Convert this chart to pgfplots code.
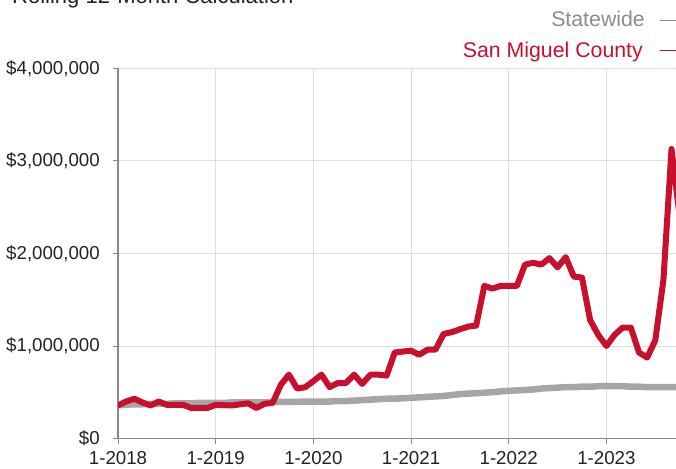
\documentclass[border=0pt]{standalone}
\usepackage{fontspec}
\setmainfont{Liberation Sans}
\usepackage{pgfplots}
\usepackage{pgfplotstable}
\pgfplotsset{compat=1.18}
\definecolor{smred}{HTML}{C8102E}
\definecolor{stgray}{HTML}{A6A6A6}
\definecolor{txtgray}{HTML}{8C8C8C}
\definecolor{gridgray}{HTML}{DDDDDD}
\definecolor{axgray}{HTML}{8A8A8A}
\definecolor{txtdark}{HTML}{222222}

\pgfplotstableread{
m v
0 0.36
1 0.365
2 0.37
3 0.37
4 0.375
5 0.375
6 0.375
7 0.38
8 0.38
9 0.38
10 0.385
11 0.385
12 0.385
13 0.385
14 0.39
15 0.39
16 0.39
17 0.39
18 0.39
19 0.395
20 0.395
21 0.395
22 0.395
23 0.40
24 0.40
25 0.40
26 0.40
27 0.405
28 0.405
29 0.41
30 0.415
31 0.42
32 0.425
33 0.43
34 0.43
35 0.435
36 0.44
37 0.445
38 0.45
39 0.455
40 0.46
41 0.47
42 0.48
43 0.485
44 0.49
45 0.495
46 0.50
47 0.51
48 0.515
49 0.52
50 0.525
51 0.53
52 0.54
53 0.545
54 0.55
55 0.555
56 0.555
57 0.56
58 0.56
59 0.565
60 0.565
61 0.565
62 0.565
63 0.56
64 0.56
65 0.555
66 0.555
67 0.555
68 0.555
69 0.555
}\statewide

\pgfplotstableread{
m v
0 0.357
1 0.40
2 0.43
3 0.39
4 0.357
5 0.40
6 0.364
7 0.364
8 0.364
9 0.33
10 0.33
11 0.33
12 0.364
13 0.36
14 0.357
15 0.37
16 0.38
17 0.33
18 0.375
19 0.385
20 0.58
21 0.69
22 0.54
23 0.555
24 0.62
25 0.69
26 0.555
27 0.60
28 0.60
29 0.69
30 0.59
31 0.69
32 0.69
33 0.68
34 0.93
35 0.94
36 0.95
37 0.905
38 0.96
39 0.96
40 1.13
41 1.15
42 1.18
43 1.21
44 1.22
45 1.65
46 1.62
47 1.65
48 1.65
49 1.65
50 1.88
51 1.90
52 1.88
53 1.95
54 1.85
55 1.96
56 1.75
57 1.74
58 1.28
59 1.12
60 1.00
61 1.12
62 1.20
63 1.20
64 0.93
65 0.875
66 1.06
67 1.71
68 3.13
69 2.40
}\sanmiguel

\begin{document}
\begin{tikzpicture}[x=1pt,y=1pt]
\useasboundingbox (0,0) rectangle (676,468);
\clip (0,0) rectangle (676,468);
\begin{axis}[
  at={(118pt,29.5pt)}, anchor=south west,
  scale only axis, width=558pt, height=370pt,
  xmin=0, xmax=68.55, ymin=0, ymax=4,
  axis x line=bottom, axis y line=left,
  axis line style={-, axgray, line width=1.5pt},
  xtick={0,12,24,36,48,60},
  xticklabels={\mbox{1-2018},\mbox{1-2019},\mbox{1-2020},\mbox{1-2021},\mbox{1-2022},\mbox{1-2023}},
  ytick={0,1,2,3,4},
  yticklabels={{\$0},{\$1,000,000},{\$2,000,000},{\$3,000,000},{\$4,000,000}},
  tick align=outside, major tick length=5pt,
  tick style={axgray, line width=1pt},
  grid=major, grid style={gridgray, line width=1pt},
  ticklabel style={font=\fontsize{18.7}{22}\selectfont, text=txtdark},
  yticklabel style={inner sep=0pt, anchor=east, xshift=-13pt},
  xticklabel style={inner sep=0pt, anchor=north, yshift=-7.6pt},
  clip=true,
]
\addplot[stgray, line width=6.5pt, line join=round, line cap=round] table[x=m, y=v] {\statewide};
\addplot[smred, line width=6pt, line join=round, line cap=round] table[x=m, y=v] {\sanmiguel};
\end{axis}
\node[anchor=base west, inner sep=0pt, font=\fontsize{22}{26}\selectfont, text=txtdark] at (12,464) {Rolling 12-Month Calculation};
\node[anchor=base east, inner sep=0pt, font=\fontsize{21.3}{25}\selectfont, text=txtgray] at (645,441.3) {Statewide};
\draw[txtgray, line width=1.6pt] (660,447.3) -- (680,447.3);
\node[anchor=base east, inner sep=0pt, font=\fontsize{21.3}{25}\selectfont, text=smred] at (643,410.7) {San Miguel County};
\draw[smred, line width=1.6pt] (660,417.3) -- (680,417.3);
\end{tikzpicture}
\end{document}
